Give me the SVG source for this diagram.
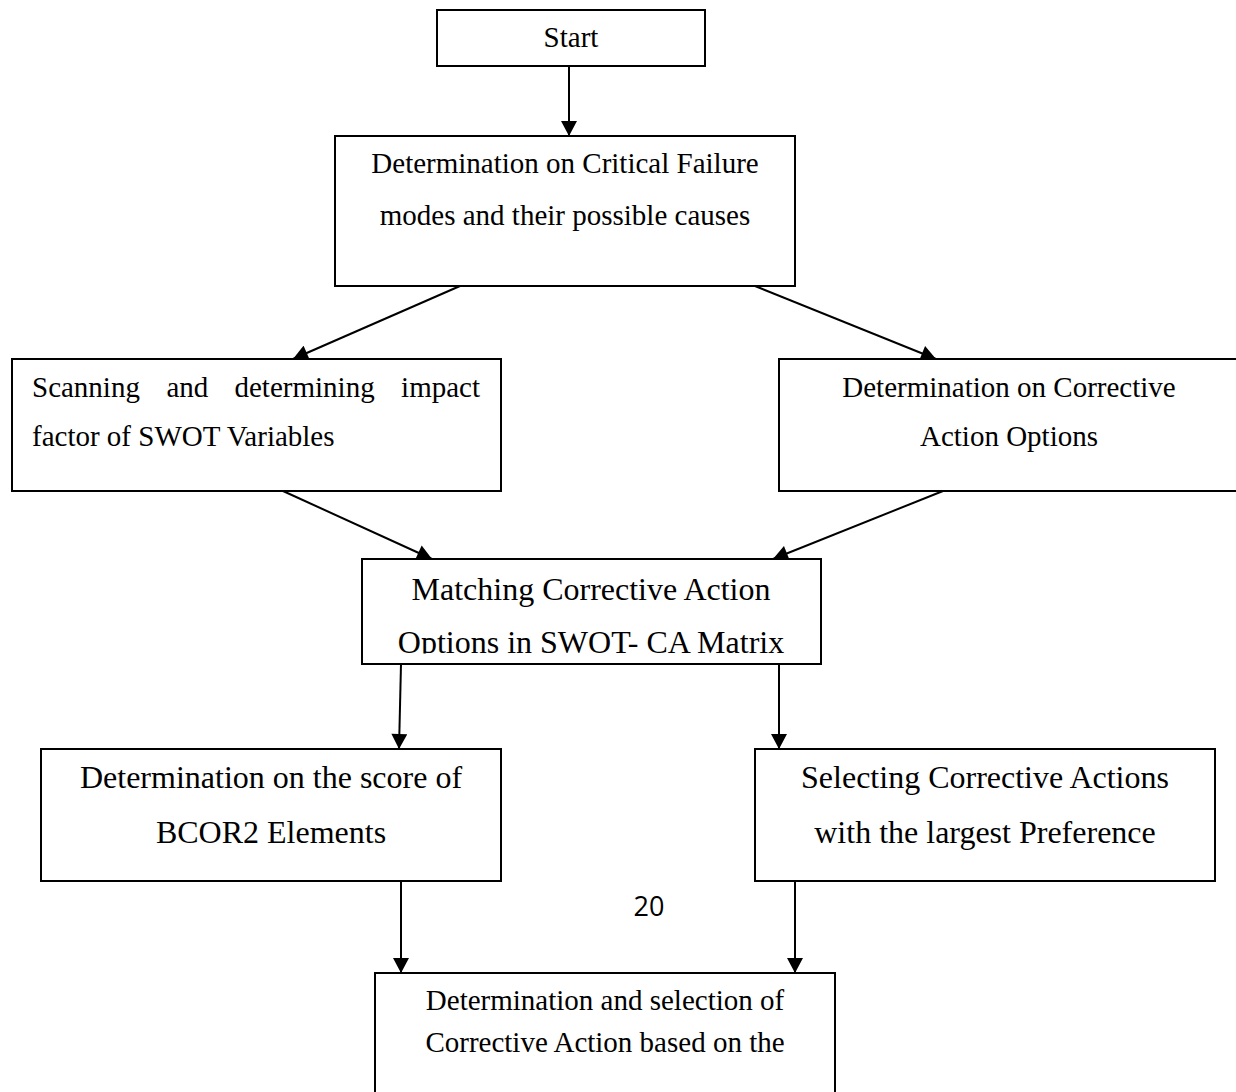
<svg xmlns="http://www.w3.org/2000/svg" width="1236" height="1092" viewBox="0 0 1236 1092">
  <style>
    .box { fill: #ffffff; stroke: #000000; stroke-width: 2; }
    .t { font-family: "Liberation Serif", "Times New Roman", serif; fill: #000000; }
    .t29 { font-size: 29px; }
    .t32 { font-size: 32px; }
    .c { text-anchor: middle; }
    .conn { stroke: #000000; stroke-width: 2; fill: none; marker-end: url(#arrow); }
    .pg { font-family: "Open Sans", "Liberation Sans", sans-serif; font-size: 27px; fill: #000000; text-anchor: middle; }
  </style>
  <defs>
    <marker id="arrow" markerUnits="userSpaceOnUse" markerWidth="16" markerHeight="16" viewBox="0 0 15 16" refX="15" refY="8" orient="auto">
      <path d="M0,0 L15,8 L0,16 Z" fill="#000000"/>
    </marker>
    <clipPath id="matchClip">
      <rect x="362" y="559" width="459" height="94.5"/>
    </clipPath>
  </defs>
  <rect width="1236" height="1092" fill="#ffffff"/>

  <g id="connectors">
    <path class="conn" d="M569,66 L569,136"/>
    <path class="conn" d="M460,286 L293,359"/>
    <path class="conn" d="M755,286 L936,359"/>
    <path class="conn" d="M283,491 L432,559"/>
    <path class="conn" d="M943,491 L773,559"/>
    <path class="conn" d="M401,664 L399,749"/>
    <path class="conn" d="M779,664 L779,749"/>
    <path class="conn" d="M401,881 L401,973"/>
    <path class="conn" d="M795,881 L795,973"/>
  </g>

  <g id="start">
    <rect class="box" x="437" y="10" width="268" height="56"/>
    <text class="t t29 c" x="571" y="47">Start</text>
  </g>

  <g id="critical-failure">
    <rect class="box" x="335" y="136" width="460" height="150"/>
    <text class="t t29 c" x="565" y="173">Determination on Critical Failure</text>
    <text class="t t29 c" x="565" y="225">modes and their possible causes</text>
  </g>

  <g id="swot-variables">
    <rect class="box" x="12" y="359" width="489" height="132"/>
    <text class="t t29" y="397"><tspan x="32">Scanning</tspan><tspan x="166.5">and</tspan><tspan x="234.5">determining</tspan><tspan x="480" text-anchor="end">impact</tspan></text>
    <text class="t t29" x="32" y="446">factor of SWOT Variables</text>
  </g>

  <g id="corrective-options">
    <rect class="box" x="779" y="359" width="470" height="132"/>
    <text class="t t29 c" x="1009" y="397">Determination on Corrective</text>
    <text class="t t29 c" x="1009" y="446">Action Options</text>
  </g>

  <g id="matching">
    <rect class="box" x="362" y="559" width="459" height="105"/>
    <g clip-path="url(#matchClip)">
      <text class="t t32 c" x="591" y="600">Matching Corrective Action</text>
      <text class="t t32 c" x="591" y="653">Options in SWOT- CA Matrix</text>
    </g>
  </g>

  <g id="bcor2">
    <rect class="box" x="41" y="749" width="460" height="132"/>
    <text class="t t32 c" x="271" y="788">Determination on the score of</text>
    <text class="t t32 c" x="271" y="843">BCOR2 Elements</text>
  </g>

  <g id="selecting">
    <rect class="box" x="755" y="749" width="460" height="132"/>
    <text class="t t32 c" x="985" y="788">Selecting Corrective Actions</text>
    <text class="t t32 c" x="985" y="843">with the largest Preference</text>
  </g>

  <g id="final-selection">
    <rect class="box" x="375" y="973" width="460" height="140"/>
    <text class="t t29 c" x="605" y="1010">Determination and selection of</text>
    <text class="t t29 c" x="605" y="1052">Corrective Action based on the</text>
  </g>

  <text class="pg" x="649" y="916">20</text>
</svg>
